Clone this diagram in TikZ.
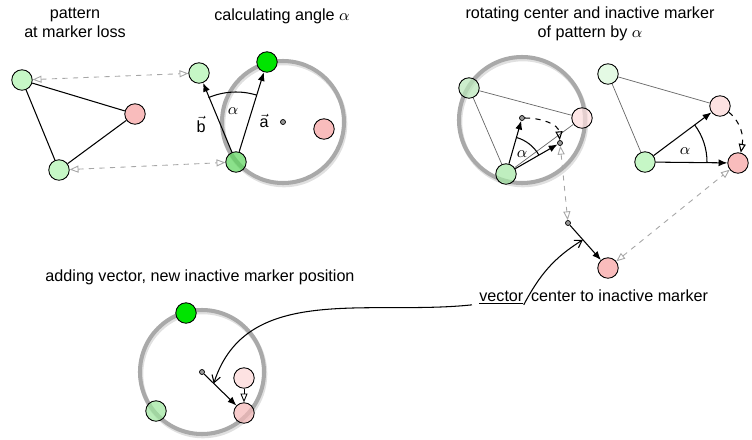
\documentclass[tikz,border=0pt]{standalone}
\usepackage{amsmath}
\usepackage{fontspec}
\setmainfont{Liberation Sans}
\usetikzlibrary{arrows.meta,positioning,calc}
\definecolor{mklight}{HTML}{C6F7C6}
\definecolor{mklime}{HTML}{00E400}
\definecolor{mkmid}{HTML}{5ED65E}
\definecolor{mkred}{HTML}{F9BCBC}
\definecolor{mkpink}{HTML}{FDE2E2}
\definecolor{mkpale}{HTML}{E4FAE4}
\definecolor{ringgrey}{HTML}{A9A9A9}
\colorlet{ghostgrey}{black!35}
\tikzset{
  marker/.style={circle,draw=black,line width=0.5pt,minimum size=0.41cm,inner sep=0pt},
  seen/.style={marker,fill opacity=0.72},
  dot/.style={circle,draw=black,line width=0.4pt,fill=black!40,minimum size=0.1cm,inner sep=0pt},
  ring/.style={draw=ringgrey,line width=2.3pt},
  ringshadow/.style={draw=black!12,line width=2.6pt},
  vec/.style={-{Latex[length=5pt,width=4pt]},line width=0.6pt},
  pat/.style={draw=black,line width=0.6pt},
  thin pat/.style={draw=black!60,line width=0.4pt},
  ghost/.style={dashed,draw=ghostgrey,line width=0.5pt,
    {Triangle[open,length=5pt,width=4pt]}-{Triangle[open,length=5pt,width=4pt]}},
  turn/.style={dashed,line width=0.6pt,-{Triangle[open,length=5pt,width=4pt]}},
  note/.style={line width=0.6pt,-{Straight Barb[length=4pt,width=5pt]}},
  txt/.style={inner sep=0pt,align=center},
  sym/.style={inner sep=1pt},
}
\begin{document}
\begin{tikzpicture}[x=0.02cm,y=0.02cm,font=\fontsize{9.2}{10.8}\selectfont]
  \useasboundingbox (0,0) rectangle (752,-440);
  % titles
  \node[txt] (t1) at (75,-23) {pattern\\at marker loss};
  \node[txt] (t2) at (282,-16) {calculating angle $\alpha$};
  \node[txt] (t3) at (590,-24) {rotating center and inactive marker\\of pattern by $\alpha$};
  \node[txt] (t6) at (200,-277) {adding vector, new inactive marker position};

  % rings
  \draw[ringshadow] (284,-124) circle[radius=61];
  \draw[ringshadow] (523,-122) circle[radius=63];
  \draw[ringshadow] (203,-374) circle[radius=62];
  \draw[ring] (283,-122) circle[radius=61];
  \draw[ring] (522,-120) circle[radius=63];
  \draw[ring] (202,-372) circle[radius=62];

  % pattern at marker loss
  \node[marker,fill=mklight] (lg1a) at (22,-80) {};
  \node[marker,fill=mkred]   (r1)   at (135,-114) {};
  \node[marker,fill=mklight] (lg1b) at (59,-170) {};
  \draw[pat] (lg1a) -- (r1);
  \draw[pat] (lg1a) -- (lg1b);
  \draw[pat] (r1) -- (lg1b);

  % calculating angle
  \node[marker,fill=mklight] (lg2) at (199,-73) {};
  \node[marker,fill=mklime]  (lm2) at (267,-62) {};
  \node[seen,fill=mkmid]     (g2)  at (236,-162) {};
  \node[dot]                 (c2)  at (283,-122) {};
  \node[marker,fill=mkred]   (r2)  at (324,-129) {};
  \draw[vec] (g2) -- (lg2);
  \draw[vec] (g2) -- (lm2);
  \draw[line width=0.6pt] (g2) ++(72.8:70) arc[start angle=72.8,end angle=113.1,radius=70];
  \node[sym] (al2) at (233,-111) {$\alpha$};
  \node[sym] (vb2) at (201,-124) {$\vec{\text{b}}$};
  \node[sym] (va2) at (264,-121) {$\vec{\text{a}}$};
  \draw[ghost] (lg1a) -- (lg2);
  \draw[ghost] (lg1b) -- (g2);

  % rotating center and inactive marker
  \node[seen,fill=mklight!85!black!40!mklight] (g3a) at (469,-88) {};
  \node[seen,fill=mkpink!90!mkred]              (p3)  at (582,-118) {};
  \node[seen,fill=mkmid!55!white]               (g3)  at (506,-174) {};
  \node[dot] (c3)  at (522,-118) {};
  \node[dot] (c3r) at (560,-143) {};
  \draw[thin pat] (g3a) -- (p3);
  \draw[thin pat] (g3a) -- (g3);
  \draw[thin pat] (g3) -- (p3);
  \draw[vec] (g3) -- (c3);
  \draw[vec] (g3) -- (c3r);
  \draw[line width=0.6pt] (g3) ++(29.9:38) arc[start angle=29.9,end angle=74,radius=38];
  \node[sym] (al3) at (522,-154) {$\alpha$};
  \draw[turn] (c3) to[out=0,in=95] (c3r);

  % pattern after rotation
  \node[marker,fill=mkpale]  (pg4) at (608,-74) {};
  \node[marker,fill=mkpink]  (pp4) at (720,-106) {};
  \node[marker,fill=mklight] (g4)  at (645,-162) {};
  \node[marker,fill=mkred]   (r4)  at (738,-163) {};
  \draw[thin pat] (pg4) -- (pp4);
  \draw[thin pat] (pg4) -- (g4);
  \draw[vec] (g4) -- (pp4);
  \draw[vec] (g4) -- (r4);
  \draw[line width=0.6pt] (g4) ++(0:62) arc[start angle=0,end angle=36.7,radius=62];
  \node[sym] (al4) at (685,-151) {$\alpha$};
  \draw[turn] (pp4.-35) to[out=-40,in=80] (r4.75);

  % vector center to inactive marker
  \node[dot]               (d5) at (568,-223) {};
  \node[marker,fill=mkred] (r5) at (608,-268) {};
  \draw[vec] (d5) -- (r5);
  \draw[ghost] (c3r) -- (d5);
  \draw[ghost] (r5) -- (r4);
  \node[txt,anchor=base west] (vw) at (479,-301) {\underline{vector}};
  \node[txt,base right=4pt of vw] (ct) {center to inactive marker};

  % adding vector
  \node[marker,fill=mklime]      (lm6) at (186,-313) {};
  \node[seen,fill=mkmid!60!white] (g6) at (156,-411) {};
  \node[seen,fill=mkred!85!black!10!mkred] (r6) at (244,-413) {};
  \node[marker,fill=mkpink]      (pp6) at (244,-378) {};
  \node[dot]                     (c6)  at (202,-372) {};
  \draw[vec] (c6) -- (r6);
  \draw[line width=0.5pt,-{Triangle[open,length=5pt,width=4pt]}] (pp6) -- (r6);

  % notes
  \path (d5) -- (r5) coordinate[pos=0.42] (vm5);
  \path (c6) -- (r6) coordinate[pos=0.3] (vm6);
  \draw[note] (vw.south east) to[out=62,in=212] (vm5);
  \draw[note] ([xshift=-4pt]vw.south west) to[out=186,in=72] (vm6);
\end{tikzpicture}
\end{document}
